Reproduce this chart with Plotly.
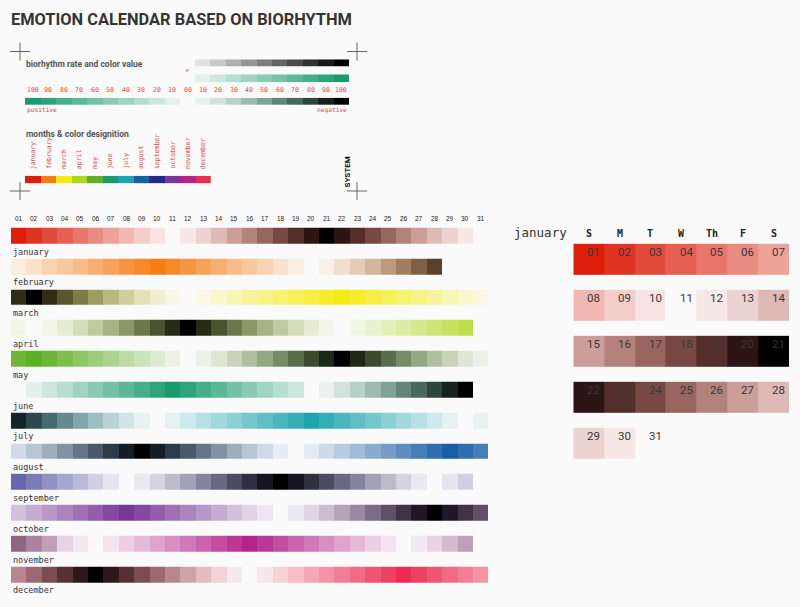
import plotly.graph_objects as go

W, H = 800, 607
BG = (250, 250, 250)

# ---------------- data ----------------
months = ["january", "february", "march", "april", "may", "june",
          "july", "august", "september", "october", "november", "december"]
month_colors = [(220, 30, 10), (245, 125, 20), (245, 235, 20), (175, 215, 30),
                (95, 175, 35), (25, 155, 110), (30, 165, 175), (25, 95, 165),
                (40, 40, 140), (120, 55, 150), (180, 35, 140), (235, 45, 80)]
day_labels = ["01", "02", "03", "04", "05", "06", "07", "08", "09", "10",
              "11", "12", "13", "14", "15", "16", "17", "18", "19", "20",
              "21", "22", "23", "24", "25", "26", "27", "28", "29", "30", "31"]
N = None
jan = [100, 90, 80, 70, 60, 50, 40, 30, 20, 10, 0, -10, -20, -30, -40, -50, -60, -70, -80, -90,
       -100, -90, -80, -70, -60, -50, -40, -30, -20, -10, 0]
feb = [10, 20, 30, 40, 50, 60, 70, 80, 90, 100, 90, 80, 70, 60, 50, 40, 30, 20, 10, 0,
       -10, -20, -30, -40, -50, -60, -70, -80, N, N, N]
mar = [-90, -100, -90, -80, -70, -60, -50, -40, -30, -20, -10, 0, 10, 20, 30, 40, 50, 60, 70, 80,
       90, 100, 90, 80, 70, 60, 50, 40, 30, 20, 10]
apr = [10, 0, -10, -20, -30, -40, -50, -60, -70, -80, -90, -100, -90, -80, -70, -60, -50, -40, -30, -20,
       -10, 0, 10, 20, 30, 40, 50, 60, 70, 80, N]
may = [90, 100, 90, 80, 70, 60, 50, 40, 30, 20, 10, 0, -10, -20, -30, -40, -50, -60, -70, -80,
       -90, -100, -90, -80, -70, -60, -50, -40, -30, -20, -10]
jun = [0, 10, 20, 30, 40, 50, 60, 70, 80, 90, 100, 90, 80, 70, 60, 50, 40, 30, 20, 0,
       -10, -20, -30, -40, -50, -60, -70, -80, -90, -100, N]
jul = [-90, -80, -70, -60, -50, -40, -30, -20, -10, 0, 10, 20, 30, 40, 50, 60, 70, 80, 90, 100,
       90, 80, 70, 60, 50, 40, 30, 20, 10, 0, -10]
aug = [-20, -30, -40, -50, -60, -70, -80, -90, -100, -90, -80, -70, -60, -50, -40, -30, -20, -10, 0, 10,
       20, 30, 40, 50, 60, 70, 80, 90, 100, 90, 80]
sep = [70, 60, 50, 40, 30, 20, 10, 0, -10, -20, -30, -40, -50, -60, -70, -80, -90, -100, -90, -80,
       -70, -60, -50, -40, -30, -20, -10, 0, 10, 20, N]
oct_ = [30, 40, 50, 60, 70, 80, 90, 100, 90, 80, 70, 60, 50, 40, 30, 20, 10, 0, -10, -20,
        -30, -40, -50, -60, -70, -80, -90, -100, -90, -80, -70]
nov = [-60, -50, -40, -20, -10, 0, 10, 20, 30, 40, 50, 60, 70, 80, 90, 100, 90, 80, 70, 60,
       50, 40, 30, 20, 10, 0, -10, -20, -30, -40, N]
dec = [-50, -60, -70, -80, -90, -100, -90, -80, -70, -60, -50, -40, -30, -20, -10, 0, 10, 20, 30, 40,
       50, 60, 70, 80, 90, 100, 90, 80, 70, 60, 50]
values = [jan, feb, mar, apr, may, jun, jul, aug, sep, oct_, nov, dec]

weekdays = ["S", "M", "T", "W", "Th", "F", "S"]
gray_vals = [10, 20, 30, 40, 50, 60, 70, 80, 90, 100]
green_vals = [10, 20, 30, 40, 50, 60, 70, 80, 90, 100]
pos_vals = [100, 90, 80, 70, 60, 50, 40, 30, 20, 10]
neg_vals = [10, 20, 30, 40, 50, 60, 70, 80, 90, 100]
pos_labels = ["100", "90", "80", "70", "60", "50", "40", "30", "20", "10"]
neg_labels = ["10", "20", "30", "40", "50", "60", "70", "80", "90", "100"]
legend_color = month_colors[5]


# ---------------- colour helpers ----------------
def mix(a, b, t):
    return tuple(a[i] * (1 - t) + b[i] * t for i in range(3))


def rgb(c):
    return "rgb(%d,%d,%d)" % tuple(int(round(v)) for v in c)


def pos_color(c, v):
    return mix(BG, c, v)


def neg_color(c, v):
    return mix(mix(BG, c, 0.7 * v), (0, 0, 0), v * v)


def month_scale(c):
    stops = []
    for k in range(-10, 11):
        v = k / 10
        col = pos_color(c, v) if v >= 0 else neg_color(c, -v)
        stops.append([(k + 10) / 20, rgb(col)])
    return stops


def pos_scale(c):
    return [[k / 10, rgb(pos_color(c, k / 10))] for k in range(11)]


def neg_scale(c):
    return [[k / 10, rgb(neg_color(c, k / 10))] for k in range(11)]


def px(x):
    return x / W


def py(y):
    return 1 - y / H


fig = go.Figure()

# ---------------- main grid ----------------
for i, (vals, c) in enumerate(zip(values, month_colors)):
    z = [[None] * 31 for _ in range(12)]
    z[i] = vals
    fig.add_trace(go.Heatmap(z=z, x=list(range(1, 32)), y=list(range(12)),
                             colorscale=month_scale(c), zmin=-100, zmax=100,
                             showscale=False, xgap=0, ygap=15, hoverinfo="skip",
                             xaxis="x", yaxis="y"))

# ---------------- january calendar ----------------
cal_z = [[None] * 7 for _ in range(5)]
for d, v in enumerate(jan):
    cal_z[d // 7][d % 7] = v
fig.add_trace(go.Heatmap(z=cal_z, x=list(range(1, 8)), y=list(range(5)),
                         colorscale=month_scale(month_colors[0]), zmin=-100, zmax=100,
                         showscale=False, xgap=0, ygap=15, hoverinfo="skip",
                         xaxis="x2", yaxis="y2"))

# ---------------- legend bars ----------------
fig.add_trace(go.Heatmap(z=[gray_vals], x=list(range(10)), y=[0],
                         colorscale=[[0, rgb(BG)], [1, "rgb(0,0,0)"]], zmin=0, zmax=100,
                         showscale=False, hoverinfo="skip", xaxis="x3", yaxis="y3"))
fig.add_trace(go.Heatmap(z=[green_vals], x=list(range(10)), y=[0],
                         colorscale=pos_scale(legend_color), zmin=0, zmax=100,
                         showscale=False, hoverinfo="skip", xaxis="x4", yaxis="y4"))
fig.add_trace(go.Heatmap(z=[pos_vals], x=list(range(10)), y=[0],
                         colorscale=pos_scale(legend_color), zmin=0, zmax=100,
                         showscale=False, hoverinfo="skip", xaxis="x5", yaxis="y5"))
fig.add_trace(go.Heatmap(z=[neg_vals], x=list(range(10)), y=[0],
                         colorscale=neg_scale(legend_color), zmin=0, zmax=100,
                         showscale=False, hoverinfo="skip", xaxis="x6", yaxis="y6"))
mscale = [[i / 11, rgb(c)] for i, c in enumerate(month_colors)]
fig.add_trace(go.Heatmap(z=[list(range(12))], x=list(range(12)), y=[0],
                         colorscale=mscale, zmin=0, zmax=11,
                         showscale=False, hoverinfo="skip", xaxis="x7", yaxis="y7"))

# ---------------- axes ----------------
hidden = dict(visible=False, fixedrange=True, showgrid=False, zeroline=False)
layout_axes = {
    "xaxis": dict(hidden, domain=[px(11), px(488.4)], range=[0.5, 31.5], anchor="y"),
    "yaxis": dict(hidden, domain=[py(590.35), py(220.75)], range=[11.5, -0.5], anchor="x"),
    "xaxis2": dict(hidden, domain=[px(573.3), px(789)], range=[0.5, 7.5], anchor="y2"),
    "yaxis2": dict(hidden, domain=[py(466.8), py(236.8)], range=[4.5, -0.5], anchor="x2"),
    "xaxis3": dict(hidden, domain=[px(195), px(349)], range=[-0.5, 9.5], anchor="y3"),
    "yaxis3": dict(hidden, domain=[py(66.7), py(59.3)], range=[-0.5, 0.5], anchor="x3"),
    "xaxis4": dict(hidden, domain=[px(195), px(349)], range=[-0.5, 9.5], anchor="y4"),
    "yaxis4": dict(hidden, domain=[py(82.3), py(74.3)], range=[-0.5, 0.5], anchor="x4"),
    "xaxis5": dict(hidden, domain=[px(25), px(180)], range=[-0.5, 9.5], anchor="y5"),
    "yaxis5": dict(hidden, domain=[py(105), py(97.7)], range=[-0.5, 0.5], anchor="x5"),
    "xaxis6": dict(hidden, domain=[px(195), px(349)], range=[-0.5, 9.5], anchor="y6"),
    "yaxis6": dict(hidden, domain=[py(105), py(97.7)], range=[-0.5, 0.5], anchor="x6"),
    "xaxis7": dict(hidden, domain=[px(25), px(210.7)], range=[-0.5, 11.5], anchor="y7"),
    "yaxis7": dict(hidden, domain=[py(183.3), py(175.7)], range=[-0.5, 0.5], anchor="x7"),
}

MONO = "DejaVu Sans Mono"
RED = "#e04848"
ann = []

# title and section heads
ann.append(dict(text="EMOTION CALENDAR BASED ON BIORHYTHM", xref="paper", yref="paper",
                x=px(9), y=py(19.5), xanchor="left", yanchor="middle", showarrow=False,
                font=dict(family="Roboto", size=16.4, color="#333333", weight="bold")))
ann.append(dict(text="biorhythm rate and color value", xref="paper", yref="paper",
                x=px(24), y=py(64.5), xanchor="left", yanchor="middle", showarrow=False,
                font=dict(family="Roboto", size=8.5, color="#555555", weight="bold")))
ann.append(dict(text="months & color designition", xref="paper", yref="paper",
                x=px(24), y=py(134), xanchor="left", yanchor="middle", showarrow=False,
                font=dict(family="Roboto", size=8.5, color="#555555", weight="bold")))
ann.append(dict(text="SYSTEM", xref="paper", yref="paper", textangle=-90,
                x=px(346.5), y=py(172), xanchor="center", yanchor="middle", showarrow=False,
                font=dict(family="Roboto", size=8, color="#111111", weight="bold")))
ann.append(dict(text="*", xref="paper", yref="paper",
                x=px(187), y=py(72), xanchor="center", yanchor="middle", showarrow=False,
                font=dict(family=MONO, size=7, color=RED)))

# legend number labels
for i, t in enumerate(pos_labels):
    ann.append(dict(text=t, xref="x5", yref="paper", x=i, y=py(90), xanchor="center",
                    yanchor="middle", showarrow=False, font=dict(family=MONO, size=6.5, color=RED)))
for i, t in enumerate(neg_labels):
    ann.append(dict(text=t, xref="x6", yref="paper", x=i, y=py(90), xanchor="center",
                    yanchor="middle", showarrow=False, font=dict(family=MONO, size=6.5, color=RED)))
ann.append(dict(text="00", xref="paper", yref="paper", x=px(187.5), y=py(90), xanchor="center",
                yanchor="middle", showarrow=False, font=dict(family=MONO, size=6.5, color=RED)))
ann.append(dict(text="positive", xref="paper", yref="paper", x=px(25), y=py(110), xanchor="left",
                yanchor="middle", showarrow=False, font=dict(family=MONO, size=6.2, color=RED)))
ann.append(dict(text="negative", xref="paper", yref="paper", x=px(349), y=py(110), xanchor="right",
                yanchor="middle", showarrow=False, font=dict(family=MONO, size=6.2, color=RED)))

# month designation labels (vertical)
for i, m in enumerate(months):
    ann.append(dict(text=m, xref="x7", yref="paper", x=i, y=py(171), xanchor="center",
                    yanchor="bottom", textangle=-90, showarrow=False,
                    font=dict(family=MONO, size=6.5, color=RED)))

# main grid: day labels and month labels
for d, t in enumerate(day_labels):
    ann.append(dict(text=t, xref="x", yref="paper", x=d + 1, y=py(218.5), xanchor="center",
                    yanchor="middle", showarrow=False,
                    font=dict(family="Liberation Sans", size=6.5, color="#222222")))
for i, m in enumerate(months):
    ann.append(dict(text=m, xref="paper", yref="y", x=px(10.5), y=i + 0.5, xanchor="left",
                    yanchor="middle", showarrow=False,
                    font=dict(family=MONO, size=8.5, color="#333333")))

# calendar labels
ann.append(dict(text="january", xref="paper", yref="paper", x=px(512), y=py(232.5), xanchor="left",
                yanchor="middle", showarrow=False, font=dict(family=MONO, size=12.5, color="#333333")))
for c, t in enumerate(weekdays):
    ann.append(dict(text=t, xref="x2", yref="paper", x=c + 1, y=py(233.5), xanchor="center",
                    yanchor="middle", showarrow=False,
                    font=dict(family=MONO, size=10, color="#222222", weight="bold")))
for d in range(len(jan)):
    ann.append(dict(text=day_labels[d], xref="x2", yref="y2", x=d % 7 + 1.5, y=d // 7,
                    xanchor="right", yanchor="middle", xshift=-2, yshift=8, showarrow=False,
                    font=dict(family="Roboto", size=11.5, color="#383838")))

# crosshair marks
shapes = []
for cx, cy in [(20, 51.5), (357, 51.5), (20, 191), (357, 191)]:
    shapes.append(dict(type="line", xref="paper", yref="paper", x0=px(cx - 10), x1=px(cx + 10),
                       y0=py(cy), y1=py(cy), line=dict(color="#666666", width=1)))
    shapes.append(dict(type="line", xref="paper", yref="paper", x0=px(cx), x1=px(cx),
                       y0=py(cy - 9), y1=py(cy + 9), line=dict(color="#666666", width=1)))

fig.update_layout(width=W, height=H, margin=dict(l=0, r=0, t=0, b=0),
                  paper_bgcolor=rgb(BG), plot_bgcolor="rgba(0,0,0,0)",
                  showlegend=False, annotations=ann, shapes=shapes, **layout_axes)

fig.write_html("out.html", config={"displayModeBar": False},
               post_script="document.body.style.margin='0';document.body.style.background='%s';" % rgb(BG))
